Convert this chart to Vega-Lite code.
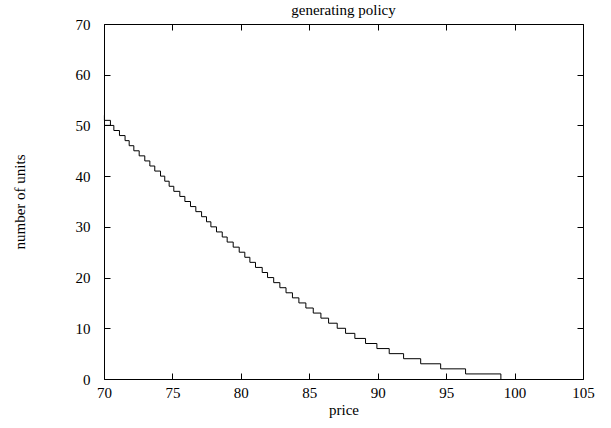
{
  "$schema": "https://vega.github.io/schema/vega-lite/v6.json",
  "autosize": "none",
  "width": 479,
  "height": 355,
  "padding": {"left": 104, "top": 24, "right": 28, "bottom": 49},
  "background": "white",
  "config": {
    "view": {"stroke": "black", "strokeWidth": 1},
    "font": "Liberation Serif",
    "axis": {
      "domain": false,
      "grid": false,
      "tickColor": "black",
      "tickWidth": 1,
      "tickSize": -6,
      "labelFlush": false,
      "labelFont": "Liberation Serif",
      "labelFontSize": 15,
      "labelColor": "black",
      "titleFont": "Liberation Serif",
      "titleFontSize": 15,
      "titleFontWeight": "normal",
      "titleColor": "black"
    }
  },
  "title": {
    "text": "generating policy",
    "font": "Liberation Serif",
    "fontSize": 15,
    "fontWeight": "normal",
    "color": "black",
    "offset": -1,
    "anchor": "middle"
  },
  "data": {
    "values": [
      {"order": 1, "price": 70.03, "units": 52},
      {"order": 2, "price": 70.03, "units": 51},
      {"order": 3, "price": 70.47, "units": 50},
      {"order": 4, "price": 70.03, "units": 50},
      {"order": 5, "price": 70.72, "units": 49},
      {"order": 6, "price": 71.13, "units": 48},
      {"order": 7, "price": 71.54, "units": 47},
      {"order": 8, "price": 71.84, "units": 46},
      {"order": 9, "price": 72.18, "units": 45},
      {"order": 10, "price": 72.57, "units": 44},
      {"order": 11, "price": 72.98, "units": 43},
      {"order": 12, "price": 73.35, "units": 42},
      {"order": 13, "price": 73.71, "units": 41},
      {"order": 14, "price": 74.13, "units": 40},
      {"order": 15, "price": 74.44, "units": 39},
      {"order": 16, "price": 74.76, "units": 38},
      {"order": 17, "price": 75.10, "units": 37},
      {"order": 18, "price": 75.54, "units": 36},
      {"order": 19, "price": 75.91, "units": 35},
      {"order": 20, "price": 76.32, "units": 34},
      {"order": 21, "price": 76.71, "units": 33},
      {"order": 22, "price": 77.13, "units": 32},
      {"order": 23, "price": 77.49, "units": 31},
      {"order": 24, "price": 77.81, "units": 30},
      {"order": 25, "price": 78.22, "units": 29},
      {"order": 26, "price": 78.64, "units": 28},
      {"order": 27, "price": 79.00, "units": 27},
      {"order": 28, "price": 79.44, "units": 26},
      {"order": 29, "price": 79.88, "units": 25},
      {"order": 30, "price": 80.29, "units": 24},
      {"order": 31, "price": 80.66, "units": 23},
      {"order": 32, "price": 81.07, "units": 22},
      {"order": 33, "price": 81.56, "units": 21},
      {"order": 34, "price": 81.95, "units": 20},
      {"order": 35, "price": 82.40, "units": 19},
      {"order": 36, "price": 82.85, "units": 18},
      {"order": 37, "price": 83.30, "units": 17},
      {"order": 38, "price": 83.77, "units": 16},
      {"order": 39, "price": 84.24, "units": 15},
      {"order": 40, "price": 84.75, "units": 14},
      {"order": 41, "price": 85.29, "units": 13},
      {"order": 42, "price": 85.85, "units": 12},
      {"order": 43, "price": 86.41, "units": 11},
      {"order": 44, "price": 87.04, "units": 10},
      {"order": 45, "price": 87.65, "units": 9},
      {"order": 46, "price": 88.33, "units": 8},
      {"order": 47, "price": 89.11, "units": 7},
      {"order": 48, "price": 89.94, "units": 6},
      {"order": 49, "price": 90.84, "units": 5},
      {"order": 50, "price": 91.89, "units": 4},
      {"order": 51, "price": 93.14, "units": 3},
      {"order": 52, "price": 94.60, "units": 2},
      {"order": 53, "price": 96.42, "units": 1},
      {"order": 54, "price": 99.00, "units": 0}
    ]
  },
  "layer": [
    {
      "mark": {"type": "line", "interpolate": "step-after", "color": "black", "strokeWidth": 1},
      "encoding": {
        "x": {
          "field": "price", "type": "quantitative",
          "scale": {"domain": [70, 105], "nice": false, "zero": false},
          "axis": {"orient": "bottom", "values": [70, 75, 80, 85, 90, 95, 100, 105], "title": "price", "labelPadding": 12, "titlePadding": 2}
        },
        "y": {
          "field": "units", "type": "quantitative",
          "scale": {"domain": [0, 70], "nice": false, "zero": false},
          "axis": {"orient": "left", "values": [0, 10, 20, 30, 40, 50, 60, 70], "title": "number of units", "labelPadding": 20, "titlePadding": 48}
        },
        "order": {"field": "order", "type": "quantitative"}
      }
    },
    {
      "mark": {"type": "line", "interpolate": "step-after", "opacity": 0},
      "encoding": {
        "x": {
          "field": "price", "type": "quantitative",
          "scale": {"domain": [70, 105], "nice": false, "zero": false},
          "axis": {"orient": "top", "values": [70, 75, 80, 85, 90, 95, 100, 105], "labels": false, "title": null}
        },
        "y": {
          "field": "units", "type": "quantitative",
          "scale": {"domain": [0, 70], "nice": false, "zero": false},
          "axis": {"orient": "right", "values": [0, 10, 20, 30, 40, 50, 60, 70], "labels": false, "title": null}
        },
        "order": {"field": "order", "type": "quantitative"}
      }
    }
  ],
  "resolve": {"scale": {"x": "independent", "y": "independent"}, "axis": {"x": "independent", "y": "independent"}}
}
